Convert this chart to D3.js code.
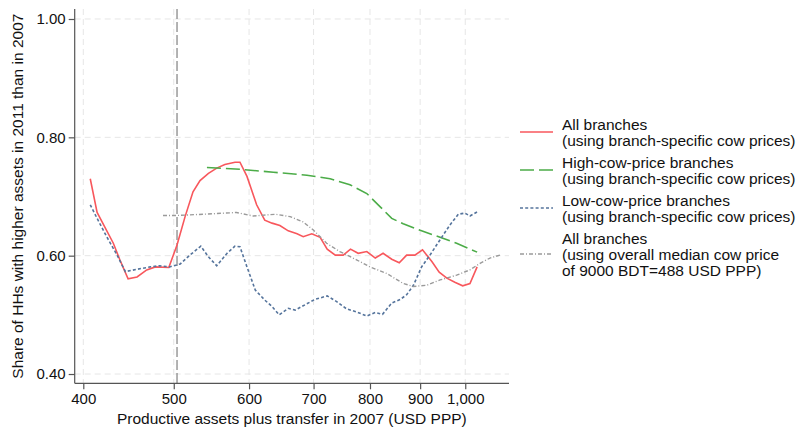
<!DOCTYPE html>
<html>
<head>
<meta charset="utf-8">
<script src="https://cdn.jsdelivr.net/npm/d3@7"></script>
<style>
  body { margin: 0; background: #fff; }
  svg { display: block; font-family: "Liberation Sans", Arial, Helvetica, sans-serif; }
</style>
</head>
<body>
<svg id="chart" width="799" height="429"></svg>
<script>
// values
const allX = [407,414,431,438,447,457,468,478,494,504,514,524,533,544,555,566,580,587,597,611,623,634,646,659,673,683,697,711,723,737,751,764,778,794,810,825,842,857,872,889,905,925,941,958,976,994,1011,1028];
const allY = [.730,.673,.621,.593,.561,.564,.576,.581,.580,.618,.666,.708,.727,.739,.748,.754,.758,.758,.734,.686,.660,.655,.651,.642,.637,.632,.637,.631,.611,.601,.601,.611,.604,.607,.596,.604,.594,.588,.601,.601,.610,.590,.572,.562,.555,.549,.553,.581];

const highX = [542,587,636,689,728,763,794,819,842,865,900,943,980,1028];
const highY = [.749,.746,.741,.736,.730,.720,.705,.683,.663,.654,.643,.631,.621,.606];

const lowX = [407,414,424,435,444,457,472,483,495,508,520,534,544,555,569,580,587,597,609,623,634,645,659,670,686,702,723,740,757,775,794,810,824,842,859,872,886,903,921,943,965,984,999,1011,1028];
const lowY = [.686,.663,.632,.601,.573,.577,.581,.583,.581,.586,.601,.616,.598,.583,.604,.616,.615,.581,.542,.525,.514,.500,.511,.508,.517,.526,.532,.522,.510,.505,.498,.504,.501,.520,.526,.534,.550,.581,.601,.627,.652,.670,.672,.667,.674];

const medX = [487,504,537,582,606,639,662,683,700,722,745,775,800,832,865,886,914,943,980,1011,1035,1059,1084];
const medY = [.668,.668,.670,.673,.667,.670,.666,.657,.643,.621,.607,.593,.581,.570,.553,.548,.550,.559,.567,.576,.587,.596,.601];

const xTicks = [400,500,600,700,800,900,1000];
const yTicks = [0.40,0.60,0.80,1.00];
const cutoff = 504;

const seriesLabels = [
  ["All branches", "(using branch-specific cow prices)"],
  ["High-cow-price branches", "(using branch-specific cow prices)"],
  ["Low-cow-price branches", "(using branch-specific cow prices)"],
  ["All branches", "(using overall median cow price", "of 9000 BDT=488 USD PPP)"]
];

// x axis is logarithmic in (value + shift)
const SHIFT = 50;

const svg = d3.select("#chart");
const plotL = 74.7, plotR = 509, plotT = 9, plotB = 383.3;

const xs = d3.scaleLog()
  .domain([391.5 + SHIFT, 1107 + SHIFT])
  .range([plotL, plotR]);
const x = v => xs(v + SHIFT);

const y = d3.scaleLinear()
  .domain([0.3843, 1.0169])
  .range([plotB, plotT]);

// grid
const grid = svg.append("g");
grid.selectAll("line.gx")
  .data(xTicks)
  .enter().append("line")
  .attr("x1", d => x(d)).attr("x2", d => x(d))
  .attr("y1", plotT).attr("y2", plotB)
  .attr("stroke", "#e6e6e6").attr("stroke-width", 1)
  .attr("stroke-dasharray", "6,4");
grid.selectAll("line.gy")
  .data(yTicks)
  .enter().append("line")
  .attr("x1", plotL).attr("x2", plotR)
  .attr("y1", d => y(d)).attr("y2", d => y(d))
  .attr("stroke", "#e6e6e6").attr("stroke-width", 1)
  .attr("stroke-dasharray", "6,4");

// reference line
svg.append("line")
  .attr("x1", x(cutoff)).attr("x2", x(cutoff))
  .attr("y1", plotT).attr("y2", plotB)
  .attr("stroke", "#8a8a8a").attr("stroke-width", 1.3)
  .attr("stroke-dasharray", "10,3");

// axes
const xAxis = svg.append("g")
  .attr("transform", "translate(0," + plotB + ")")
  .call(d3.axisBottom(xs)
    .tickValues(xTicks.map(t => t + SHIFT))
    .tickFormat(d => d3.format(",")(Math.round(d - SHIFT)))
    .tickSize(6).tickPadding(4));
xAxis.select(".domain").attr("d", "M" + plotL + ",0H" + plotR);

const yAxis = svg.append("g")
  .attr("transform", "translate(" + plotL + ",0)")
  .call(d3.axisLeft(y)
    .tickValues(yTicks)
    .tickFormat(d3.format(".2f"))
    .tickSize(6).tickPadding(3));
yAxis.select(".domain").attr("d", "M0," + plotT + "V" + plotB);

svg.selectAll(".domain, .tick line").attr("stroke", "#555").attr("stroke-width", 1.2);
svg.selectAll(".tick text").attr("fill", "#111").style("font-size", "15px")
  .style("font-family", '"Liberation Sans", Arial, sans-serif');

// titles
svg.append("text")
  .attr("x", (plotL + plotR) / 2).attr("y", 424)
  .attr("text-anchor", "middle")
  .style("font-size", "15.5px").attr("fill", "#111")
  .text("Productive assets plus transfer in 2007 (USD PPP)");

svg.append("text")
  .attr("transform", "translate(23," + ((plotT + plotB) / 2) + ") rotate(-90)")
  .attr("text-anchor", "middle")
  .style("font-size", "15.5px").attr("fill", "#111")
  .text("Share of HHs with higher assets in 2011 than in 2007");

// lines
const series = [
  { xs: allX, ys: allY, color: "#f8575c", dash: null, w: 1.6 },
  { xs: highX, ys: highY, color: "#4cac48", dash: "14,5", w: 1.6 },
  { xs: lowX, ys: lowY, color: "#55749c", dash: "3,2.2", w: 1.6 },
  { xs: medX, ys: medY, color: "#9a9a9a", dash: "4,2,1,2", w: 1.4 }
];

const line = d3.line().x(d => x(d[0])).y(d => y(d[1]));

series.forEach(s => {
  svg.append("path")
    .datum(d3.zip(s.xs, s.ys))
    .attr("d", line)
    .attr("fill", "none")
    .attr("stroke", s.color)
    .attr("stroke-width", s.w)
    .attr("stroke-dasharray", s.dash);
});

// legend
const legendRows = [124, 162, 200, 238];
const lineH = 16;
const legend = svg.append("g");
series.forEach((s, i) => {
  const labels = seriesLabels[i];
  const midY = legendRows[i] + (labels.length === 3 ? lineH : lineH / 2);
  legend.append("line")
    .attr("x1", 520).attr("x2", 553)
    .attr("y1", midY).attr("y2", midY)
    .attr("stroke", s.color).attr("stroke-width", s.w)
    .attr("stroke-dasharray", s.dash);
  labels.forEach((t, j) => {
    legend.append("text")
      .attr("x", 562).attr("y", legendRows[i] + j * lineH + 5.5)
      .style("font-size", "15.5px").attr("fill", "#111")
      .text(t);
  });
});
</script>
</body>
</html>
